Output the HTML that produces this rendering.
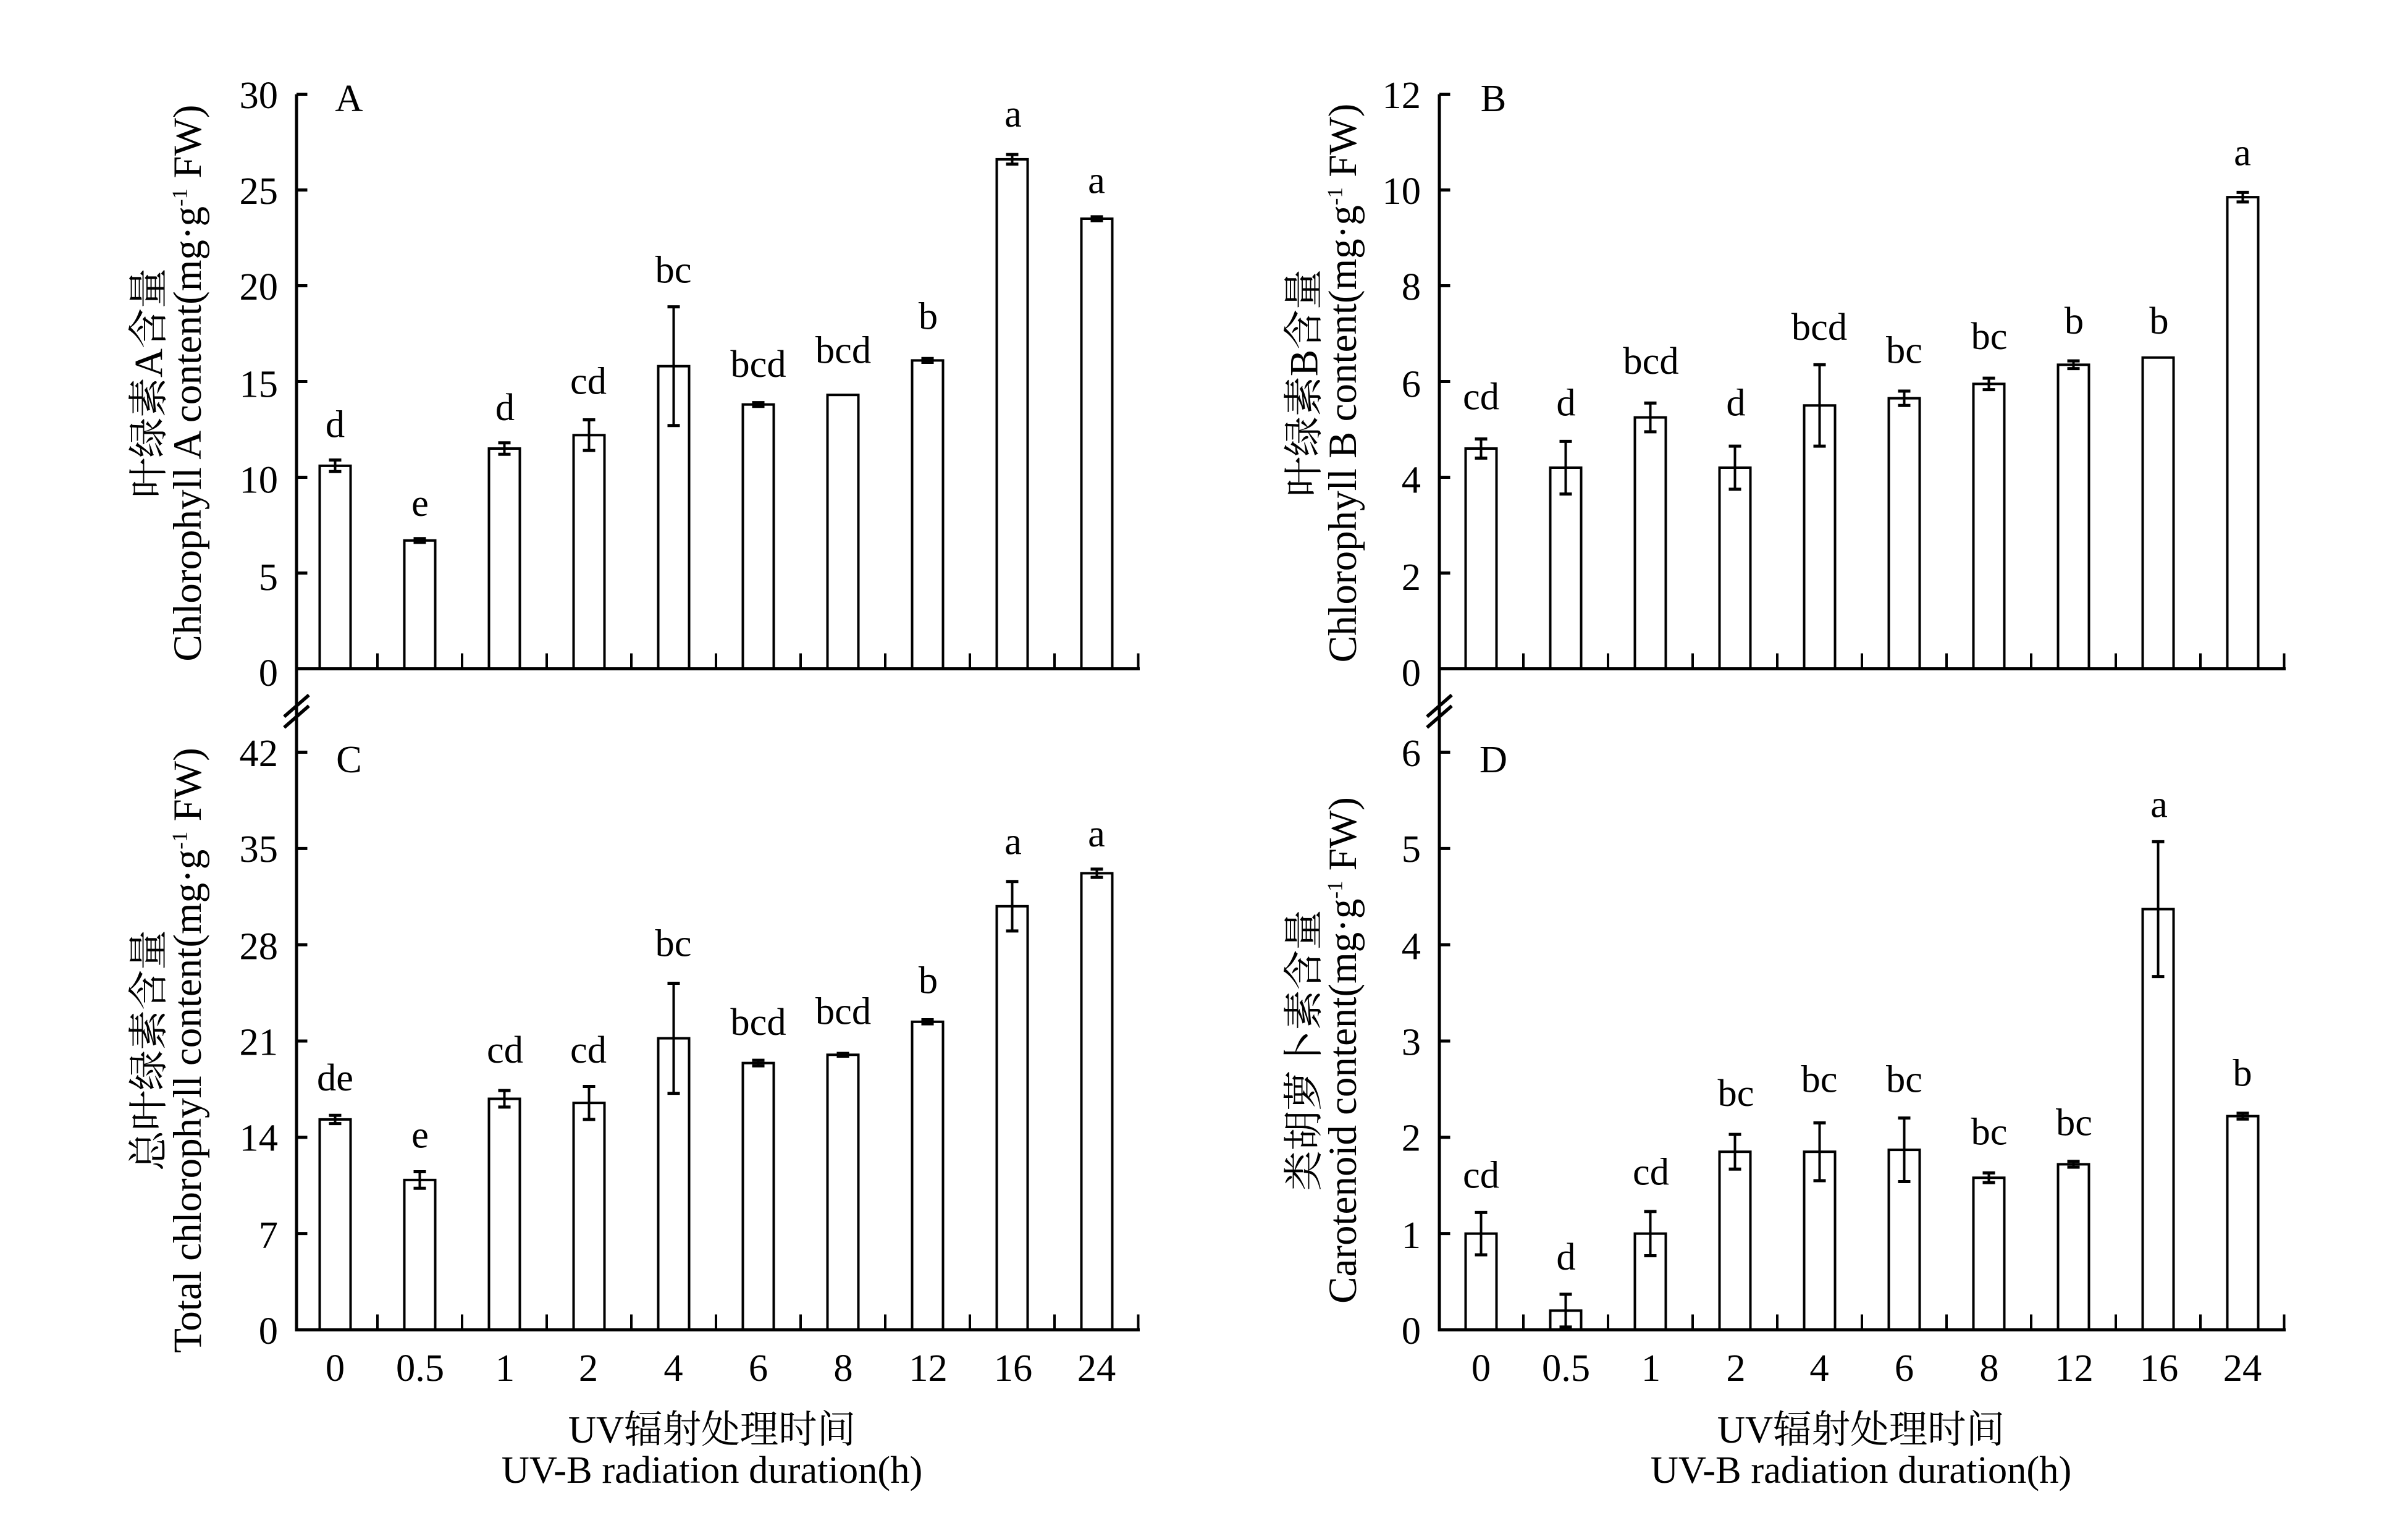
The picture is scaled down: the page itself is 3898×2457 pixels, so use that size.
<!DOCTYPE html>
<html><head><meta charset="utf-8">
<style>
html,body{margin:0;padding:0;background:#fff;}
svg{display:block;}
text{font-family:"Liberation Serif","Noto Serif CJK SC","Noto Sans CJK SC",serif;fill:#000;}
</style></head>
<body>
<svg id="s" xmlns="http://www.w3.org/2000/svg" width="3898" height="2457" viewBox="0 0 1559.2 982.8">
<g id="g" stroke="#000" fill="none" stroke-width="1.6"></g>
<g font-size="25" text-anchor="end">
<text x="180" y="70">30</text><text x="180" y="132">25</text><text x="180" y="194">20</text><text x="180" y="257">15</text><text x="180" y="319">10</text><text x="180" y="382">5</text><text x="180" y="444">0</text>
<text x="180" y="496">42</text><text x="180" y="558">35</text><text x="180" y="621">28</text><text x="180" y="683">21</text><text x="180" y="745">14</text><text x="180" y="808">7</text><text x="180" y="870">0</text>
<text x="920" y="70">12</text><text x="920" y="132">10</text><text x="920" y="194">8</text><text x="920" y="257">6</text><text x="920" y="319">4</text><text x="920" y="382">2</text><text x="920" y="444">0</text>
<text x="920" y="496">6</text><text x="920" y="558">5</text><text x="920" y="621">4</text><text x="920" y="683">3</text><text x="920" y="745">2</text><text x="920" y="808">1</text><text x="920" y="870">0</text>
</g>
<g font-size="25" text-anchor="middle">
<text x="226" y="72">A</text><text x="967" y="72">B</text><text x="226" y="500">C</text><text x="967" y="500">D</text>
<text x="217" y="894">0</text><text x="272" y="894">0.5</text><text x="327" y="894">1</text><text x="381" y="894">2</text><text x="436" y="894">4</text><text x="491" y="894">6</text><text x="546" y="894">8</text><text x="601" y="894">12</text><text x="656" y="894">16</text><text x="710" y="894">24</text>
<text x="959" y="894">0</text><text x="1014" y="894">0.5</text><text x="1069" y="894">1</text><text x="1124" y="894">2</text><text x="1178" y="894">4</text><text x="1233" y="894">6</text><text x="1288" y="894">8</text><text x="1343" y="894">12</text><text x="1398" y="894">16</text><text x="1452" y="894">24</text>
<text x="461" y="934">UV辐射处理时间</text><text x="461" y="960">UV-B radiation duration(h)</text>
<text x="1205" y="934">UV辐射处理时间</text><text x="1205" y="960">UV-B radiation duration(h)</text>
<text x="217" y="283">d</text><text x="272" y="334">e</text><text x="327" y="272">d</text><text x="381" y="255">cd</text><text x="436" y="183">bc</text><text x="491" y="244">bcd</text><text x="546" y="235">bcd</text><text x="601" y="213">b</text><text x="656" y="82">a</text><text x="710" y="125">a</text>
<text x="959" y="265">cd</text><text x="1014" y="269">d</text><text x="1069" y="242">bcd</text><text x="1124" y="269">d</text><text x="1178" y="220">bcd</text><text x="1233" y="235">bc</text><text x="1288" y="226">bc</text><text x="1343" y="216">b</text><text x="1398" y="216">b</text><text x="1452" y="107">a</text>
<text x="217" y="706">de</text><text x="272" y="743">e</text><text x="327" y="688">cd</text><text x="381" y="688">cd</text><text x="436" y="619">bc</text><text x="491" y="670">bcd</text><text x="546" y="663">bcd</text><text x="601" y="643">b</text><text x="656" y="553">a</text><text x="710" y="548">a</text>
<text x="959" y="769">cd</text><text x="1014" y="822">d</text><text x="1069" y="767">cd</text><text x="1124" y="716">bc</text><text x="1178" y="707">bc</text><text x="1233" y="707">bc</text><text x="1288" y="741">bc</text><text x="1343" y="735">bc</text><text x="1398" y="529">a</text><text x="1452" y="703">b</text>
</g>
<g font-size="26" text-anchor="middle">
<g transform="translate(105,248) rotate(-90)"><text x="0" y="0">叶绿素A含量</text><text x="0" y="25">Chlorophyll A content(mg·g<tspan dy="-9" font-size="14">-1</tspan><tspan dy="9"> FW)</tspan></text></g>
<g transform="translate(105,680) rotate(-90)"><text x="0" y="0">总叶绿素含量</text><text x="0" y="25">Total chlorophyll content(mg·g<tspan dy="-9" font-size="14">-1</tspan><tspan dy="9"> FW)</tspan></text></g>
<g transform="translate(853,248) rotate(-90)"><text x="0" y="0">叶绿素B含量</text><text x="0" y="25">Chlorophyll B content(mg·g<tspan dy="-9" font-size="14">-1</tspan><tspan dy="9"> FW)</tspan></text></g>
<g transform="translate(853,680) rotate(-90)"><text x="0" y="0">类胡萝卜素含量</text><text x="0" y="25">Carotenoid content(mg·g<tspan dy="-9" font-size="14">-1</tspan><tspan dy="9"> FW)</tspan></text></g>
</g>
</svg>
<script>
var g=document.getElementById('g'),NS='http://www.w3.org/2000/svg';
function L(x1,y1,x2,y2,w){var e=document.createElementNS(NS,'line');e.setAttribute('x1',x1);e.setAttribute('y1',y1);e.setAttribute('x2',x2);e.setAttribute('y2',y2);if(w)e.setAttribute('stroke-width',w);g.appendChild(e);}
function R(x,y,w,h){var e=document.createElementNS(NS,'rect');e.setAttribute('x',x);e.setAttribute('y',y);e.setAttribute('width',w);e.setAttribute('height',h);g.appendChild(e);}
function panel(ax,ytop,y0,xend,max,nt,data,x0){
 L(ax,ytop,ax,y0+1,2);L(ax,y0,xend,y0,2);
 for(var i=0;i<=nt;i++){var y=ytop+(y0-ytop)*i/nt;L(ax,y,ax+7,y,2);}
 var sp=54.8,k=(y0-ytop)/max;
 for(var i=0;i<10;i++){var cx=x0+i*sp;
  if(i<9)L(cx+sp/2,y0,cx+sp/2,y0-10);
  var m=data[i][0],e=data[i][1],yt=y0-m*k;
  R(cx-10,yt,20,y0-yt);
  if(e>0){var a=y0-(m+e)*k,b=y0-(m-e)*k;L(cx,a,cx,b);L(cx-4,a,cx+4,a,2);L(cx-4,b,cx+4,b,2);}
 }
 L(xend-1,y0,xend-1,y0-10);
}
panel(192,61,433,738,30,6,[[10.6,.3],[6.7,.1],[11.5,.3],[12.2,.8],[15.8,3.1],[13.8,.1],[14.3,0],[16.1,.1],[26.6,.25],[23.5,.1]],217);
panel(192,487,861,738,42,6,[[15.3,.3],[10.9,.6],[16.8,.6],[16.5,1.2],[21.2,4],[19.4,.2],[20,.1],[22.4,.15],[30.8,1.8],[33.2,.3]],217);
panel(932,61,433,1480,12,6,[[4.6,.2],[4.2,.55],[5.25,.3],[4.2,.45],[5.5,.85],[5.65,.15],[5.95,.12],[6.35,.08],[6.5,0],[9.85,.1]],959);
panel(932,487,861,1480,6,6,[[1,.22],[.2,.17],[1,.23],[1.85,.18],[1.85,.3],[1.87,.33],[1.58,.05],[1.72,.03],[4.37,.7],[2.22,.03]],959);
L(192,433,192,487,2);L(932,433,932,487,2);
[192,932].forEach(function(x){L(x-8,464,x+8,450,2.2);L(x-8,471,x+8,457,2.2);});
</script>
</body></html>
